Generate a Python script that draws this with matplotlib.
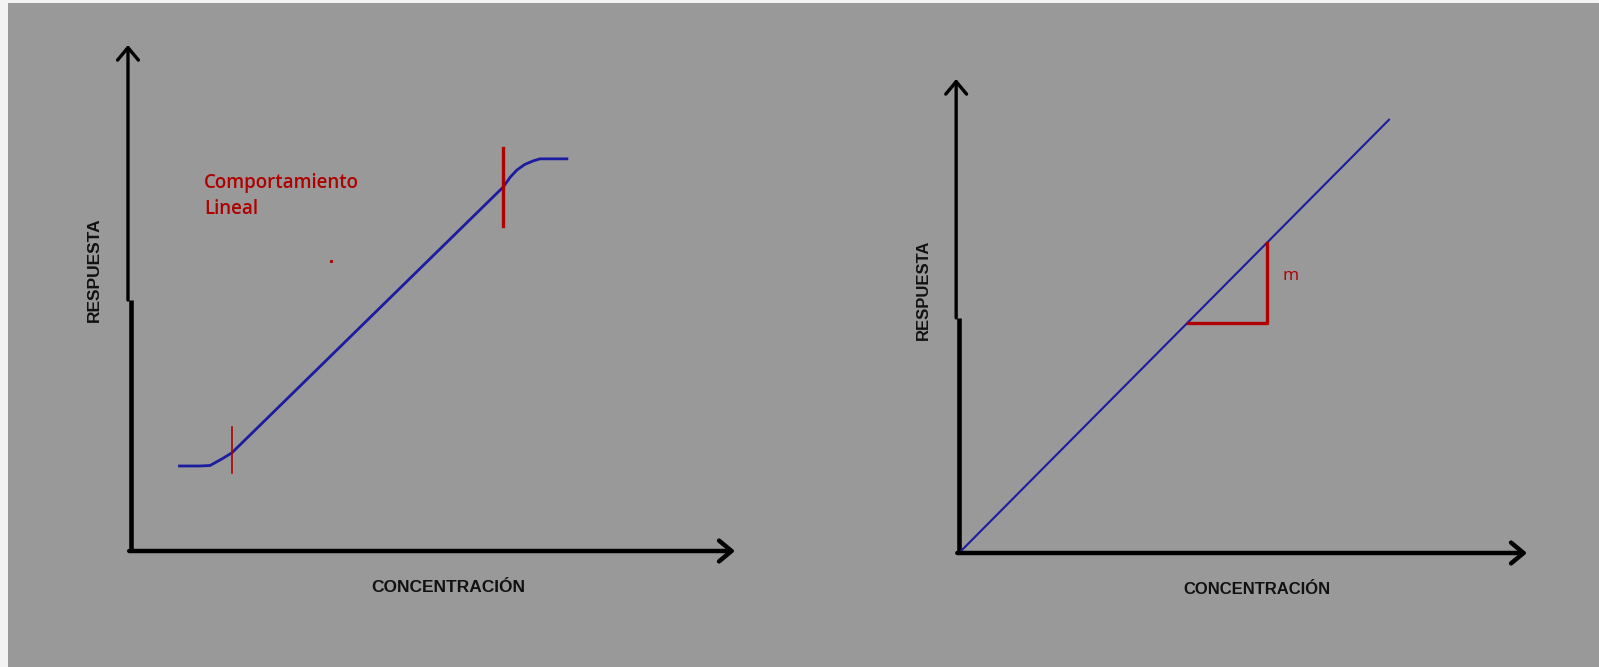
import matplotlib.pyplot as plt
from matplotlib.patches import Rectangle

# Curva de calibración (panel izquierdo), unidades arbitrarias 0-100
conc_curve = [7.8, 11.4, 13.1, 14.0, 15.2, 16.7, 61.6, 62.8, 63.9, 65.2, 66.6, 67.7, 72.4]
resp_curve = [16.8, 16.8, 16.9, 17.5, 18.3, 19.4, 71.9, 73.9, 75.3, 76.4, 77.1, 77.5, 77.5]

# Límites del rango lineal (marcas rojas)
lim_conc = [16.7, 61.6]
lim_resp_low = [15.4, 64.2]
lim_resp_high = [24.5, 79.6]

# Recta de calibración (panel derecho)
conc_line = [0.0, 75.7]
resp_line = [0.0, 91.4]

# Triángulo de la pendiente m
tri_conc = [40.3, 54.2, 54.2]
tri_resp = [48.5, 48.5, 65.4]

BLUE = "#1c1ca0"
RED = "#b00000"
GRAY = "#999999"

fig = plt.figure(figsize=(15.99, 6.67), dpi=100, facecolor="#f3f3f3")
fig.patches.append(Rectangle((8 / 1599, 0), 1, 1 - 3 / 667, transform=fig.transFigure,
                             facecolor=GRAY, edgecolor="none", zorder=-10))


def draw_axes(ax, step_y, lw_low, lw_up):
    ax.set_xlim(0, 100)
    ax.set_ylim(0, 100)
    ax.axis("off")
    arrow = dict(arrowstyle="->,head_length=0.6,head_width=0.5", color="black",
                 mutation_scale=15, shrinkA=0, shrinkB=0)
    # eje y: tramo inferior grueso, tramo superior con flecha
    ax.plot([0, 0], [0, step_y], color="black", lw=lw_low, clip_on=False, solid_capstyle="butt")
    ax.annotate("", xy=(-0.5, 100), xytext=(-0.5, step_y),
                arrowprops=dict(arrow, lw=lw_up), annotation_clip=False)
    # eje x
    ax.annotate("", xy=(100, 0), xytext=(-0.3, 0),
                arrowprops=dict(arrow, lw=3.2), annotation_clip=False)


lab_font = dict(family=["Liberation Sans", "DejaVu Sans"], fontweight="bold", color="#111111")
red_font = dict(family=["Open Sans", "DejaVu Sans"], color=RED, va="center", ha="left")

# Panel izquierdo
ax1 = fig.add_axes([131 / 1599, 1 - 551 / 667, 604 / 1599, 506 / 667])
ax1.set_facecolor("none")
draw_axes(ax1, 49.6, 3.3, 2.4)
ax1.plot(conc_curve, resp_curve, color=BLUE, lw=2.0, solid_capstyle="butt")
ax1.plot([lim_conc[0], lim_conc[0]], [lim_resp_low[0], lim_resp_high[0]], color=RED, lw=1.2)
ax1.plot([lim_conc[1], lim_conc[1]], [lim_resp_low[1], lim_resp_high[1]], color=RED, lw=2.4)
ax1.plot([33.1], [57.3], marker="s", markersize=1.2, color=RED, linestyle="none")
ax1.text(12.1, 72.7, "Comportamiento", fontsize=13.5, fontweight="semibold", **red_font)
ax1.text(12.1, 67.6, "Lineal", fontsize=13.5, fontweight="semibold", **red_font)
ax1.text(-6.0, 55.5, "RESPUESTA", rotation=90, fontsize=12.5, ha="center", va="center", **lab_font)
ax1.text(52.6, -7.3, "CONCENTRACIÓN", fontsize=12.5, ha="center", va="center", **lab_font)

# Panel derecho
ax2 = fig.add_axes([959 / 1599, 1 - 553 / 667, 568 / 1599, 474 / 667])
ax2.set_facecolor("none")
draw_axes(ax2, 49.6, 3.3, 2.4)
ax2.plot(conc_line, resp_line, color=BLUE, lw=1.5)
ax2.plot(tri_conc, tri_resp, color=RED, lw=2.4, solid_joinstyle="round")
ax2.text(56.9, 58.4, "m", fontsize=12.5, **red_font)
ax2.text(-6.2, 55.5, "RESPUESTA", rotation=90, fontsize=12, ha="center", va="center", **lab_font)
ax2.text(52.5, -7.6, "CONCENTRACIÓN", fontsize=12, ha="center", va="center", **lab_font)

fig.savefig("out.png", dpi=100, facecolor=fig.get_facecolor())
